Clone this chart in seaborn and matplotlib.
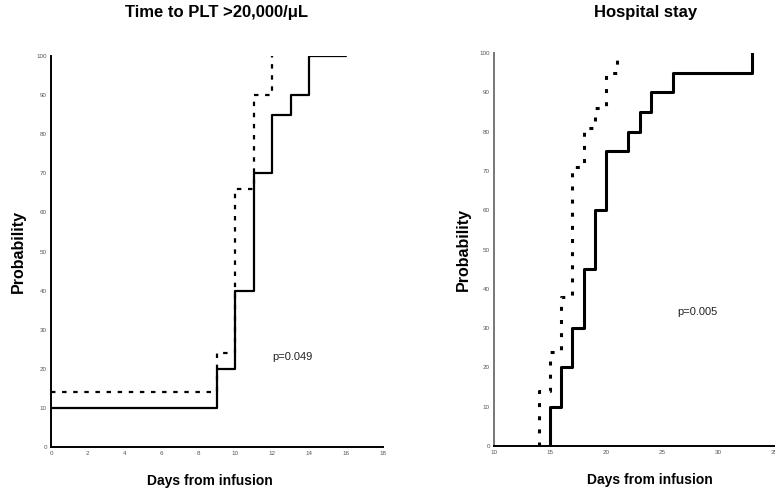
# Kaplan-Meier style step curves: platelet recovery and hospital stay

import matplotlib.pyplot as plt
import seaborn as sns
import pandas as pd

# Time to PLT >20,000/uL (days, cumulative probability %)
plt_solid_days = [0, 9, 10, 11, 12, 13, 14, 16]
plt_solid_prob = [10, 20, 40, 70, 85, 90, 100, 100]
plt_dashed_days = [0, 9, 10, 11, 12]
plt_dashed_prob = [14, 24, 66, 90, 100]
plt_xticks = [0, 2, 4, 6, 8, 10, 12, 14, 16, 18]
plt_pvalue = "p=0.049"

# Hospital stay
hosp_solid_days = [15, 15, 16, 17, 18, 19, 20, 22, 23, 24, 26, 33]
hosp_solid_prob = [0, 10, 20, 30, 45, 60, 75, 80, 85, 90, 95, 100]
hosp_dashed_days = [14, 14, 15, 16, 17, 18, 19, 20, 21]
hosp_dashed_prob = [0, 14, 24, 38, 71, 81, 86, 95, 100]
hosp_xticks = [10, 15, 20, 25, 30, 35]
hosp_pvalue = "p=0.005"

yticks = list(range(0, 101, 10))

sns.set_style("white")
plt.rcParams['font.family'] = ['Liberation Sans', 'DejaVu Sans']
plt.rcParams['text.color'] = 'black'
plt.rcParams['axes.labelcolor'] = 'black'

fig = plt.figure(figsize=(7.75, 4.92), dpi=100)
ax1 = fig.add_axes([51 / 775, 1 - 447 / 492, 332 / 775, 391 / 492])
ax2 = fig.add_axes([494 / 775, 1 - 446 / 492, 280 / 775, 393 / 492])


def draw_curves(ax, sx, sy, dx, dy, lw_solid, lw_dash, dashes):
    solid = pd.DataFrame({'days': sx, 'prob': sy})
    dashed = pd.DataFrame({'days': dx, 'prob': dy})
    sns.lineplot(data=solid, x='days', y='prob', ax=ax, color='black',
                 lw=lw_solid, drawstyle='steps-post', estimator=None, sort=False)
    sns.lineplot(data=dashed, x='days', y='prob', ax=ax, color='black',
                 lw=lw_dash, drawstyle='steps-post', estimator=None, sort=False,
                 dashes=False, linestyle=(0, dashes))


def style_axes(ax, xticks, spine_color):
    ax.set_xlim(xticks[0], xticks[-1])
    ax.set_ylim(0, 100)
    ax.set_xticks(xticks)
    ax.set_yticks(yticks)
    ax.tick_params(length=0, labelsize=4.5, labelcolor='#555555', pad=3)
    for side in ['top', 'right']:
        ax.spines[side].set_visible(False)
    ax.spines['left'].set_color(spine_color)
    ax.spines['bottom'].set_color('black')
    ax.spines['left'].set_linewidth(1.4)
    ax.spines['bottom'].set_linewidth(1.4)


draw_curves(ax1, plt_solid_days, plt_solid_prob, plt_dashed_days, plt_dashed_prob,
            1.6, 1.6, (2, 3))
style_axes(ax1, plt_xticks, 'black')
ax1.text(12.0, 23, plt_pvalue, fontsize=8, va='center', color='#222222')

draw_curves(ax2, hosp_solid_days, hosp_solid_prob, hosp_dashed_days, hosp_dashed_prob,
            2.2, 2.2, (1.3, 3.0))
style_axes(ax2, hosp_xticks, '#777777')
ax2.text(26.4, 34, hosp_pvalue, fontsize=8, va='center', color='#222222')

# Axis labels placed to match the original layout
for ax, lx, xx in [(ax1, -0.075, 0.479), (ax2, -0.082, 0.557)]:
    ax.set_ylabel('Probability', fontsize=11.5, fontweight='bold')
    ax.set_xlabel('Days from infusion', fontsize=10, fontweight='bold')
    ax.yaxis.set_label_coords(lx, 0.50)
    ax.xaxis.set_label_coords(xx, -0.068)

fig.text(217 / 775, 1 - 13 / 492, 'Time to PLT >20,000/μL', ha='center', va='center',
         fontsize=12, fontweight='bold')
fig.text(646 / 775, 1 - 13 / 492, 'Hospital stay', ha='center', va='center',
         fontsize=12, fontweight='bold')

plt.savefig('out.png', dpi=100)
plt.close()
